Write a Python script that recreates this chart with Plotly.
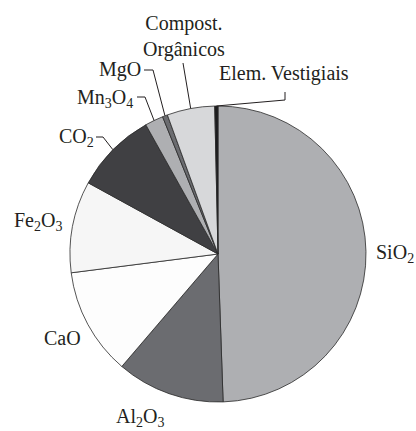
import math
import plotly.graph_objects as go

W, H = 416, 431

labels = ["SiO<sub>2</sub>", "Al<sub>2</sub>O<sub>3</sub>", "CaO", "Fe<sub>2</sub>O<sub>3</sub>",
          "CO<sub>2</sub>", "Mn<sub>3</sub>O<sub>4</sub>", "MgO", "Compost.<br>Orgânicos",
          "Elem. Vestigiais"]
values = [49.4, 11.8, 11.7, 10.0, 8.9, 2.0, 0.55, 5.2, 0.35]
colors = ["#aeafb2", "#6b6c70", "#fdfdfd", "#f6f6f6", "#404043", "#aeafb2",
          "#6b6c70", "#d7d8da", "#1c1c1e"]

# pie geometry (pixels)
CX, CY, R = 218, 254, 148
FONT = "Liberation Serif"


def px(x):
    return x / W


def py(y):
    return 1 - y / H


fig = go.Figure(go.Pie(
    labels=labels, values=values, sort=False, direction="clockwise", rotation=0,
    marker=dict(colors=colors, line=dict(color="#2a2a2a", width=0.8)),
    textinfo="none", hoverinfo="label+percent", showlegend=False,
    domain=dict(x=[px(CX - R), px(CX + R)], y=[py(CY + R), py(CY - R)]),
))

# mid-angle edge points from data
total = sum(values)
mid = []
acc = 0
for v in values:
    a = (acc + v / 2) / total * 2 * math.pi
    mid.append((CX + R * math.sin(a), CY - R * math.cos(a)))
    acc += v

# label text positions (pixel centres)
text_pos = {
    0: (395, 253), 1: (140, 417), 2: (62, 338), 3: (38, 222), 4: (76, 137),
    5: (105, 98), 6: (120, 70), 7: (184, 36), 8: (284, 73),
}
annotations = []
for i, (x, y) in text_pos.items():
    annotations.append(dict(x=px(x), y=py(y), xref="paper", yref="paper", text=labels[i],
                            showarrow=False, xanchor="center", yanchor="middle",
                            font=dict(family=FONT, size=20, color="#231f20")))

# leader lines: label end -> elbow -> slice edge
leaders = {
    4: [(96, 137), (103, 137)],
    5: [(137, 97), (145, 97)],
    6: [(144, 70), (153, 70)],
    7: [(183, 63)],
    8: [(285, 92), (285, 100)],
}
shapes = []
for i, pts in leaders.items():
    ex, ey = mid[i]
    pts = pts + [(ex, ey)]
    path = "M " + " L ".join(f"{px(x)},{py(y)}" for x, y in pts)
    shapes.append(dict(type="path", path=path, xref="paper", yref="paper",
                       line=dict(color="#231f20", width=1)))

fig.update_layout(
    width=W, height=H, margin=dict(l=0, r=0, t=0, b=0),
    paper_bgcolor="white", plot_bgcolor="white",
    annotations=annotations, shapes=shapes,
)
fig.write_html("out.html", config={"displayModeBar": False},
               post_script="document.body.style.margin='0';document.body.style.overflow='hidden';")
